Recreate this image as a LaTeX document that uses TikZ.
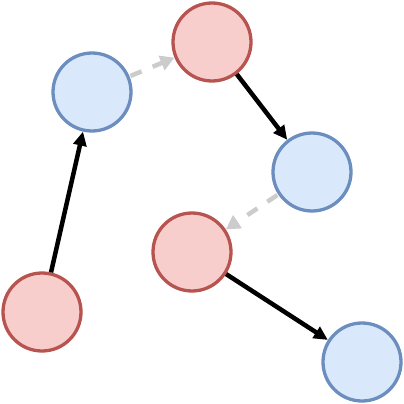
\documentclass[tikz,border=0pt]{standalone}
\usetikzlibrary{arrows.meta}
\definecolor{redfill}{HTML}{F8CECC}
\definecolor{redline}{HTML}{B85450}
\definecolor{bluefill}{HTML}{DAE8FC}
\definecolor{blueline}{HTML}{6C8EBF}
\definecolor{grayline}{HTML}{CCCCCC}
\begin{document}
\begin{tikzpicture}[x=1pt,y=-1pt,
  rednode/.style={circle,draw=redline,fill=redfill,line width=3.3pt,minimum size=78pt,inner sep=0pt},
  bluenode/.style={circle,draw=blueline,fill=bluefill,line width=3.3pt,minimum size=78pt,inner sep=0pt},
  solidarrow/.style={line width=4.5pt,draw=black,-{Triangle[length=14pt,width=13pt]}},
  grayarrow/.style={line width=4.5pt,draw=grayline,dash pattern=on 12pt off 12pt,-{Triangle[length=14pt,width=15pt]},shorten <=1pt}]
\useasboundingbox (0,0) rectangle (404,404);
\node[bluenode] (a) at (92,92) {};
\node[rednode] (b) at (212,42) {};
\node[bluenode] (c) at (312,172) {};
\node[rednode] (d) at (192,252) {};
\node[rednode] (e) at (42,312) {};
\node[bluenode] (f) at (362,362) {};
\draw[solidarrow] (e) -- (a);
\draw[grayarrow] (a) -- (b);
\draw[solidarrow] (b) -- (c);
\draw[grayarrow] (c) -- (d);
\draw[solidarrow] (d) -- (f);
\end{tikzpicture}
\end{document}
